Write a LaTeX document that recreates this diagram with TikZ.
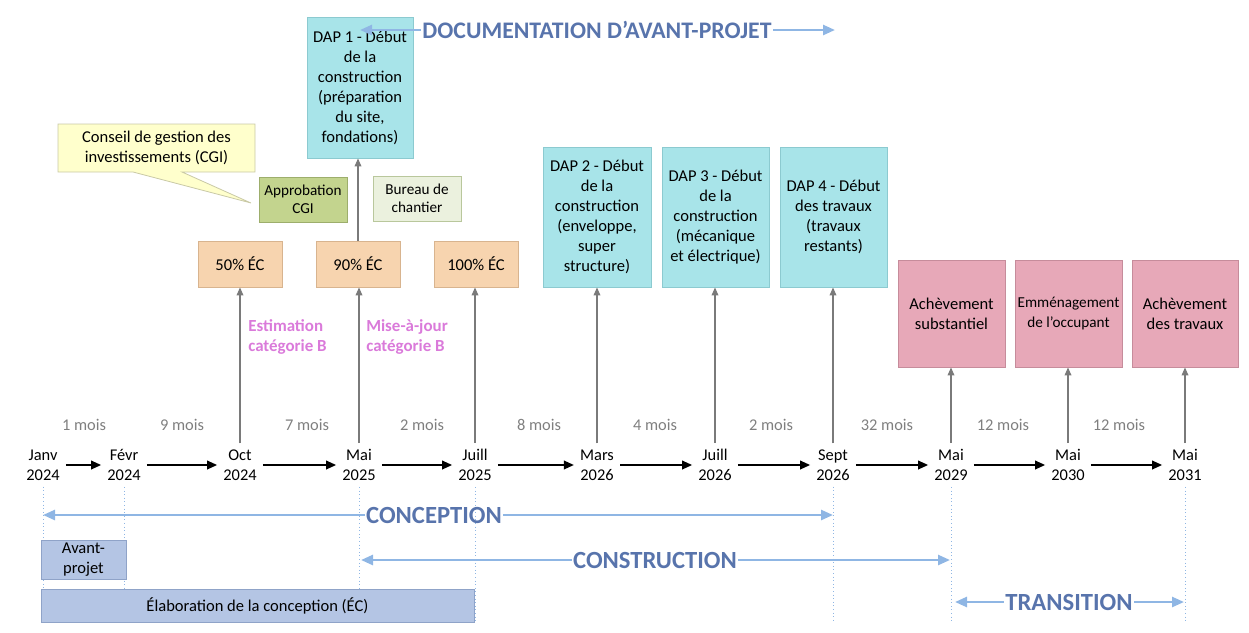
\documentclass[tikz,border=0pt]{standalone}
\usepackage{fontspec}
\setmainfont{Carlito}
\usetikzlibrary{arrows.meta}
\definecolor{dapfill}{HTML}{A8E4E9}
\definecolor{dapline}{HTML}{8CCAD0}
\definecolor{ecfill}{HTML}{F7D4AF}
\definecolor{ecline}{HTML}{D8B48F}
\definecolor{aprfill}{HTML}{C3D48E}
\definecolor{aprline}{HTML}{9DAE6C}
\definecolor{burfill}{HTML}{EBF1DE}
\definecolor{burline}{HTML}{B9C79C}
\definecolor{callfill}{HTML}{FFFFCC}
\definecolor{callline}{HTML}{C9C9A6}
\definecolor{pinkfill}{HTML}{E7A8B8}
\definecolor{pinkline}{HTML}{C68C9B}
\definecolor{barfill}{HTML}{B4C5E4}
\definecolor{barline}{HTML}{8FA3C8}
\definecolor{spanline}{HTML}{8FB6E4}
\definecolor{spantext}{HTML}{5874AC}
\definecolor{vgray}{HTML}{7A7A7A}
\definecolor{moisgray}{HTML}{7F7F7F}
\definecolor{estpink}{HTML}{DA7ADA}
\begin{document}
\begin{tikzpicture}[x=0.75pt,y=-0.75pt,
  wh/.style 2 args={minimum width=#1*0.75pt, minimum height=#2*0.75pt},
  box/.style={draw, line width=0.6pt, inner sep=1pt, align=center, font=\fontsize{12.4}{15}\selectfont},
  dap/.style={box, fill=dapfill, draw=dapline},
  ecbox/.style={box, fill=ecfill, draw=ecline, wh={84}{46}},
  pinkbox/.style={box, fill=pinkfill, draw=pinkline},
  barbox/.style={box, fill=barfill, draw=barline},
  date/.style={align=center, inner sep=4.5pt, font=\fontsize{12.3}{15}\selectfont},
  mois/.style={text=moisgray, inner sep=1pt, font=\fontsize{12.3}{15}\selectfont},
  estlabel/.style={text=estpink, anchor=west, align=left, inner sep=0pt, font=\bfseries\fontsize{12.7}{15}\selectfont},
  tl/.style={-{Triangle[length=7.5pt,width=6.5pt]}, line width=1.2pt, black},
  va/.style={-{Triangle[length=6pt,width=5pt]}, line width=1pt, vgray},
  span/.style={-{Triangle[length=9pt,width=7.5pt]}, line width=1.9pt, spanline},
  spanlabel/.style={text=spantext, inner sep=1pt, font=\bfseries\fontsize{18.5}{22}\selectfont},
  dots/.style={spanline, dotted, line width=0.7pt},
]
\useasboundingbox (0,0) rectangle (1249,632);

% dates
\node[date] (d1) at (43,465) {Janv\\2024};
\node[date] (d2) at (124,465) {Févr\\2024};
\node[date] (d3) at (240,465) {Oct\\2024};
\node[date] (d4) at (359,465) {Mai\\2025};
\node[date] (d5) at (475,465) {Juill\\2025};
\node[date] (d6) at (597,465) {Mars\\2026};
\node[date] (d7) at (715,465) {Juill\\2026};
\node[date] (d8) at (833,465) {Sept\\2026};
\node[date] (d9) at (951,465) {Mai\\2029};
\node[date] (d10) at (1068,465) {Mai\\2030};
\node[date] (d11) at (1185,465) {Mai\\2031};

% dotted guides
\coordinate (bot) at (0,622);
\foreach \d in {d1,d2,d4,d5,d8,d9,d11}{
  \draw[dots] (\d.south) -- (\d.south |- bot);
}

% timeline arrows
\draw[tl] (d1) -- (d2);
\draw[tl] (d2) -- (d3);
\draw[tl] (d3) -- (d4);
\draw[tl] (d4) -- (d5);
\draw[tl] (d5) -- (d6);
\draw[tl] (d6) -- (d7);
\draw[tl] (d7) -- (d8);
\draw[tl] (d8) -- (d9);
\draw[tl] (d9) -- (d10);
\draw[tl] (d10) -- (d11);

% durations
\node[mois] (m1) at (84,425) {1 mois};
\node[mois] (m2) at (182,425) {9 mois};
\node[mois] (m3) at (307,425) {7 mois};
\node[mois] (m4) at (422,425) {2 mois};
\node[mois] (m5) at (539,425) {8 mois};
\node[mois] (m6) at (655,425) {4 mois};
\node[mois] (m7) at (771,425) {2 mois};
\node[mois] (m8) at (887,425) {32 mois};
\node[mois] (m9) at (1003,425) {12 mois};
\node[mois] (m10) at (1119,425) {12 mois};

% EC boxes
\node[ecbox] (ec50) at (240,264) {50\% ÉC};
\node[ecbox] (ec90) at (358,264) {90\% ÉC};
\node[ecbox] (ec100) at (476,264) {100\% ÉC};

% DAP boxes
\node[dap, wh={106}{141}] (dap1) at (360,87.5) {DAP 1 - Début\\de la\\construction\\(préparation\\du site,\\fondations)};
\node[dap, wh={108}{140}] (dap2) at (597,217) {DAP 2 - Début\\de la\\construction\\(enveloppe,\\super\\structure)};
\node[dap, wh={107}{140}] (dap3) at (715.5,217) {DAP 3 - Début\\de la\\construction\\(mécanique\\et électrique)};
\node[dap, wh={107}{140}] (dap4) at (833.5,217) {DAP 4 - Début\\des travaux\\(travaux\\restants)};

% CGI boxes
\node[box, fill=aprfill, draw=aprline, wh={88}{45}, font=\fontsize{11.4}{13.5}\selectfont] (appr) at (303,199.5) {Approbation\\CGI};
\node[box, fill=burfill, draw=burline, wh={88}{45}, font=\fontsize{11.4}{13.5}\selectfont] (bur) at (417,198.5) {Bureau de\\chantier};

% callout
\draw[fill=callfill, draw=callline, line width=0.6pt] (58,124) -- (255,124) -- (255,172) -- (182,172) -- (251,203) -- (133,172) -- (58,172) -- cycle;
\node[align=center, inner sep=0pt, font=\fontsize{12.4}{15}\selectfont] (cgi) at (156.5,148) {Conseil de gestion des\\investissements (CGI)};

% pink boxes
\node[pinkbox, wh={107}{107}] (ach1) at (951.5,313.5) {Achèvement\\substantiel};
\node[pinkbox, wh={107}{107}, font=\fontsize{11.4}{15}\selectfont] (emm) at (1068.5,313.5) {Emménagement\\de l’occupant};
\node[pinkbox, wh={106}{107}] (ach2) at (1185,313.5) {Achèvement\\des travaux};

% vertical arrows
\draw[va] (d3.north) -- (d3 |- ec50.south);
\draw[va] (d4.north) -- (d4 |- ec90.south);
\draw[va] (d5.north) -- (d5 |- ec100.south);
\draw[va] (ec90.north) -- (ec90.north |- dap1.south);
\draw[va] (d6.north) -- (d6 |- dap2.south);
\draw[va] (d7.north) -- (d7 |- dap3.south);
\draw[va] (d8.north) -- (d8 |- dap4.south);
\draw[va] (d9.north) -- (d9 |- ach1.south);
\draw[va] (d10.north) -- (d10 |- emm.south);
\draw[va] (d11.north) -- (d11 |- ach2.south);

% estimation labels
\node[estlabel] (est1) at (248,337) {Estimation\\catégorie B};
\node[estlabel] (est2) at (366,337) {Mise-à-jour\\catégorie B};

% bottom bars
\node[barbox, wh={85}{39}] (avp) at (83.5,559.5) {Avant-\\projet};
\node[barbox, wh={433}{33}] (ecbar) at (257.5,605.5) {Élaboration de la conception (ÉC)};

% spans
\node[spanlabel, font=\bfseries\fontsize{17.8}{21}\selectfont] (doc) at (597,30) {DOCUMENTATION D’AVANT-PROJET};
\coordinate (docL) at (360,30);
\coordinate (docR) at (835,30);
\draw[span] (doc) -- (docL);
\draw[span] (doc) -- (docR);

\node[spanlabel] (conc) at (434,515) {CONCEPTION};
\coordinate (concL) at (43,515);
\coordinate (concR) at (833,515);
\draw[span] (conc) -- (concL);
\draw[span] (conc) -- (concR);

\node[spanlabel] (cons) at (655,560) {CONSTRUCTION};
\coordinate (consL) at (361,560);
\coordinate (consR) at (950,560);
\draw[span] (cons) -- (consL);
\draw[span] (cons) -- (consR);

\node[spanlabel] (trans) at (1069,602) {TRANSITION};
\coordinate (transL) at (955,602);
\coordinate (transR) at (1184,602);
\draw[span] (trans) -- (transL);
\draw[span] (trans) -- (transR);
\end{tikzpicture}
\end{document}
